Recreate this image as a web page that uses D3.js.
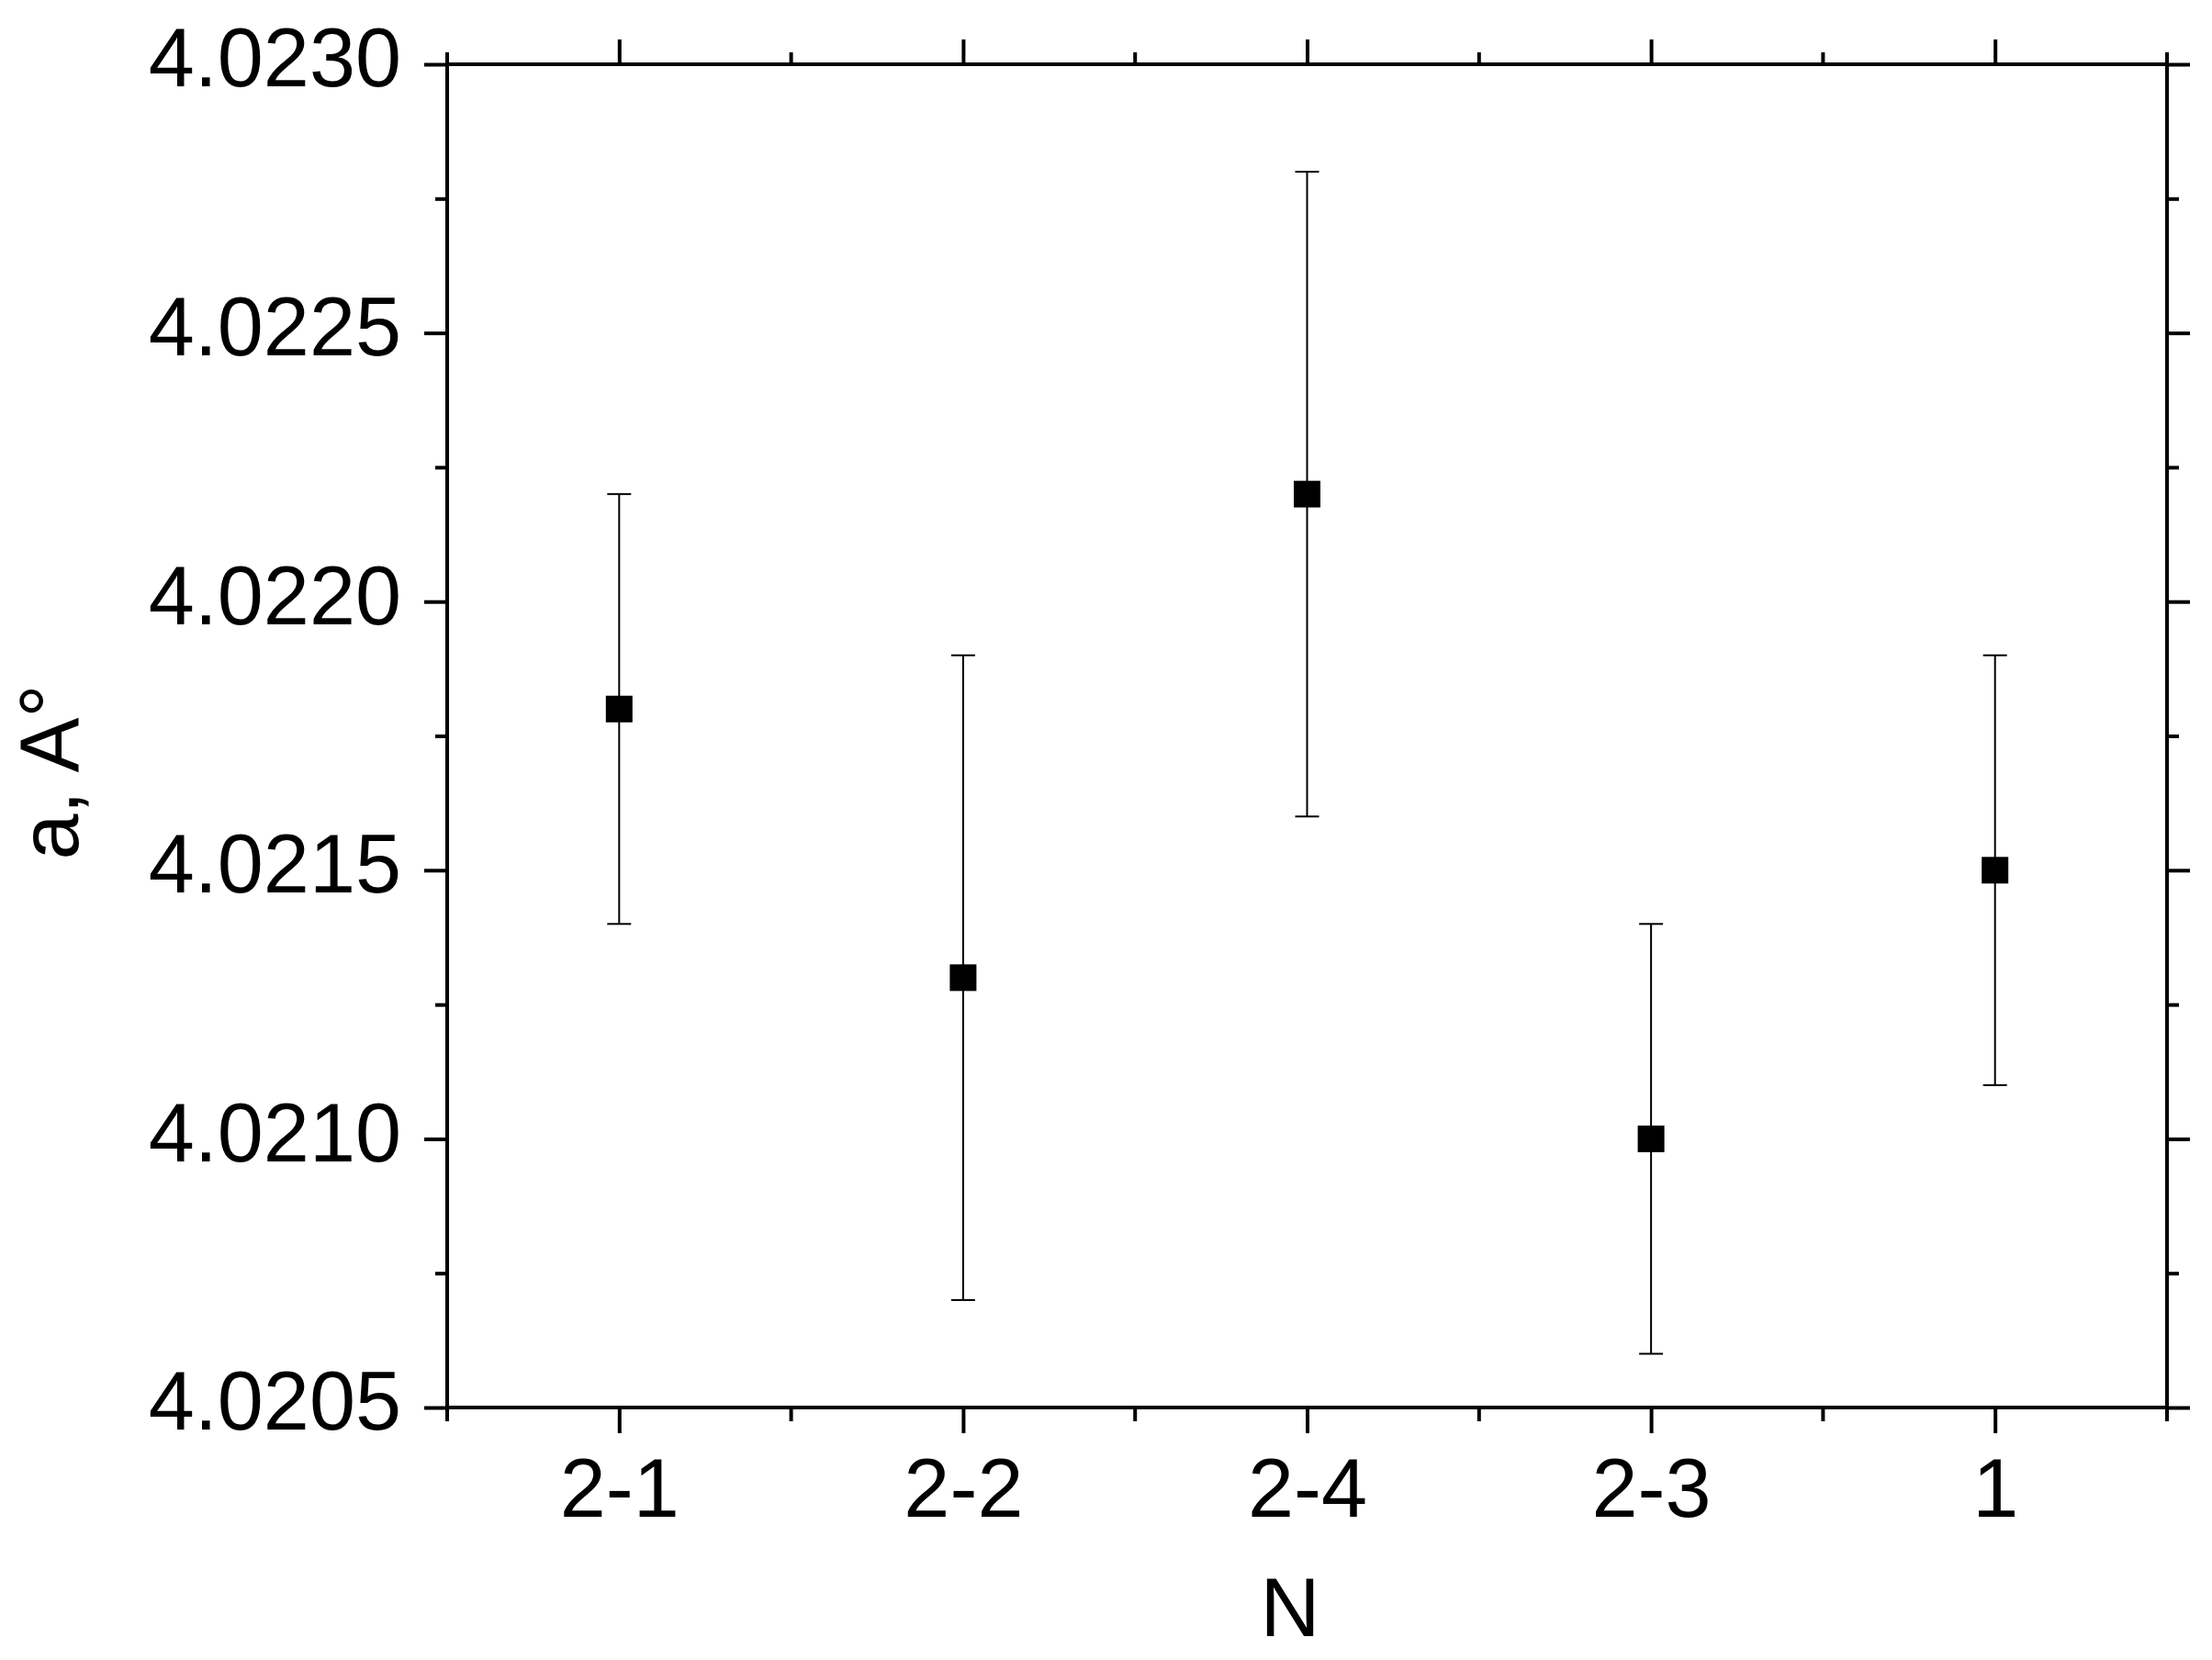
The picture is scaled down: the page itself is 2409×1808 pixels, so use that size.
<!DOCTYPE html>
<html>
<head>
<meta charset="utf-8">
<script src="https://cdn.jsdelivr.net/npm/d3@7"></script>
<style>
  html, body { margin: 0; padding: 0; background: #fff; }
  svg { display: block; }
</style>
</head>
<body>
<script>
// ---- data ----
const categories = ["2-1", "2-2", "2-4", "2-3", "1"];
const values     = [4.0218, 4.0213, 4.0222, 4.0210, 4.0215];
const errors     = [0.0004, 0.0006, 0.0006, 0.0004, 0.0004];
const yTicks      = [4.0205, 4.0210, 4.0215, 4.0220, 4.0225, 4.0230];
const yMinorTicks = [4.02075, 4.02125, 4.02175, 4.02225, 4.02275];
const xLabel = "N";
const yLabel = "a, A°";

// ---- layout ----
const W = 2409, H = 1808;
const L = 487, R = 2360, T = 70, B = 1533;
const font = "Arial, 'Liberation Sans', sans-serif";

const svg = d3.select("body").append("svg").attr("width", W).attr("height", H);

const x = d3.scalePoint().domain(categories).range([L, R]).padding(0.5);
const y = d3.scaleLinear().domain([4.0205, 4.0230]).range([B, T]);
const step = x.step();
const xMinor = d3.range(categories.length + 1).map(i => L + i * step);

function styleAxis(g, width) {
  g.select(".domain").remove();
  g.selectAll(".tick line").attr("stroke", "#000").attr("stroke-width", width);
  g.selectAll(".tick text").attr("font-family", font).attr("font-size", 90).attr("fill", "#000");
}

// bottom major
svg.append("g").attr("transform", `translate(0,${B})`)
  .call(d3.axisBottom(x).tickSize(28).tickPadding(30))
  .call(g => styleAxis(g, 4))
  .call(g => g.selectAll(".tick text").attr("dy", null).attr("dominant-baseline", "auto")
      .attr("y", 119));
// bottom minor
svg.append("g").attr("transform", `translate(0,${B})`)
  .selectAll("line").data(xMinor).join("line")
  .attr("x1", d => d).attr("x2", d => d).attr("y1", 0).attr("y2", 15)
  .attr("stroke", "#000").attr("stroke-width", 4);
// top major
svg.append("g").attr("transform", `translate(0,${T})`)
  .call(d3.axisTop(x).tickSize(27).tickFormat(""))
  .call(g => styleAxis(g, 4));
// top minor
svg.append("g").attr("transform", `translate(0,${T})`)
  .selectAll("line").data(xMinor).join("line")
  .attr("x1", d => d).attr("x2", d => d).attr("y1", 0).attr("y2", -13)
  .attr("stroke", "#000").attr("stroke-width", 4);

// left major
svg.append("g").attr("transform", `translate(${L},0)`)
  .call(d3.axisLeft(y).tickValues(yTicks).tickSize(25).tickPadding(25).tickFormat(d3.format(".4f")))
  .call(g => styleAxis(g, 4))
  .call(g => g.selectAll(".tick text").attr("dy", "0.31em").attr("y", -4));
// left minor
svg.append("g").attr("transform", `translate(${L},0)`)
  .call(d3.axisLeft(y).tickValues(yMinorTicks).tickSize(13).tickFormat(""))
  .call(g => styleAxis(g, 4));
// right major
svg.append("g").attr("transform", `translate(${R},0)`)
  .call(d3.axisRight(y).tickValues(yTicks).tickSize(25).tickFormat(""))
  .call(g => styleAxis(g, 4));
// right minor
svg.append("g").attr("transform", `translate(${R},0)`)
  .call(d3.axisRight(y).tickValues(yMinorTicks).tickSize(13).tickFormat(""))
  .call(g => styleAxis(g, 4));

// frame
svg.append("rect").attr("x", L).attr("y", T).attr("width", R - L).attr("height", B - T)
  .attr("fill", "none").attr("stroke", "#000").attr("stroke-width", 4);

// data
const pts = categories.map((c, i) => ({c, v: values[i], e: errors[i]}));
const eb = svg.append("g");
eb.selectAll("line.v").data(pts).join("line").attr("class", "v")
  .attr("x1", d => x(d.c)).attr("x2", d => x(d.c))
  .attr("y1", d => y(d.v + d.e)).attr("y2", d => y(d.v - d.e))
  .attr("stroke", "#000").attr("stroke-width", 2);
eb.selectAll("line.cu").data(pts).join("line").attr("class", "cu")
  .attr("x1", d => x(d.c) - 13).attr("x2", d => x(d.c) + 13)
  .attr("y1", d => y(d.v + d.e)).attr("y2", d => y(d.v + d.e))
  .attr("stroke", "#000").attr("stroke-width", 2);
eb.selectAll("line.cl").data(pts).join("line").attr("class", "cl")
  .attr("x1", d => x(d.c) - 13).attr("x2", d => x(d.c) + 13)
  .attr("y1", d => y(d.v - d.e)).attr("y2", d => y(d.v - d.e))
  .attr("stroke", "#000").attr("stroke-width", 2);
const sq = 29;
svg.append("g").selectAll("rect").data(pts).join("rect")
  .attr("x", d => x(d.c) - sq / 2).attr("y", d => y(d.v) - sq / 2)
  .attr("width", sq).attr("height", sq).attr("fill", "#000");

// axis titles
svg.append("text").attr("x", 1405).attr("y", 1782).attr("text-anchor", "middle")
  .attr("font-family", font).attr("font-size", 90).attr("fill", "#000").text(xLabel);
svg.append("text").attr("transform", "translate(85,841) rotate(-90)").attr("text-anchor", "middle")
  .attr("font-family", font).attr("font-size", 90).attr("fill", "#000").text(yLabel);
</script>
</body>
</html>
